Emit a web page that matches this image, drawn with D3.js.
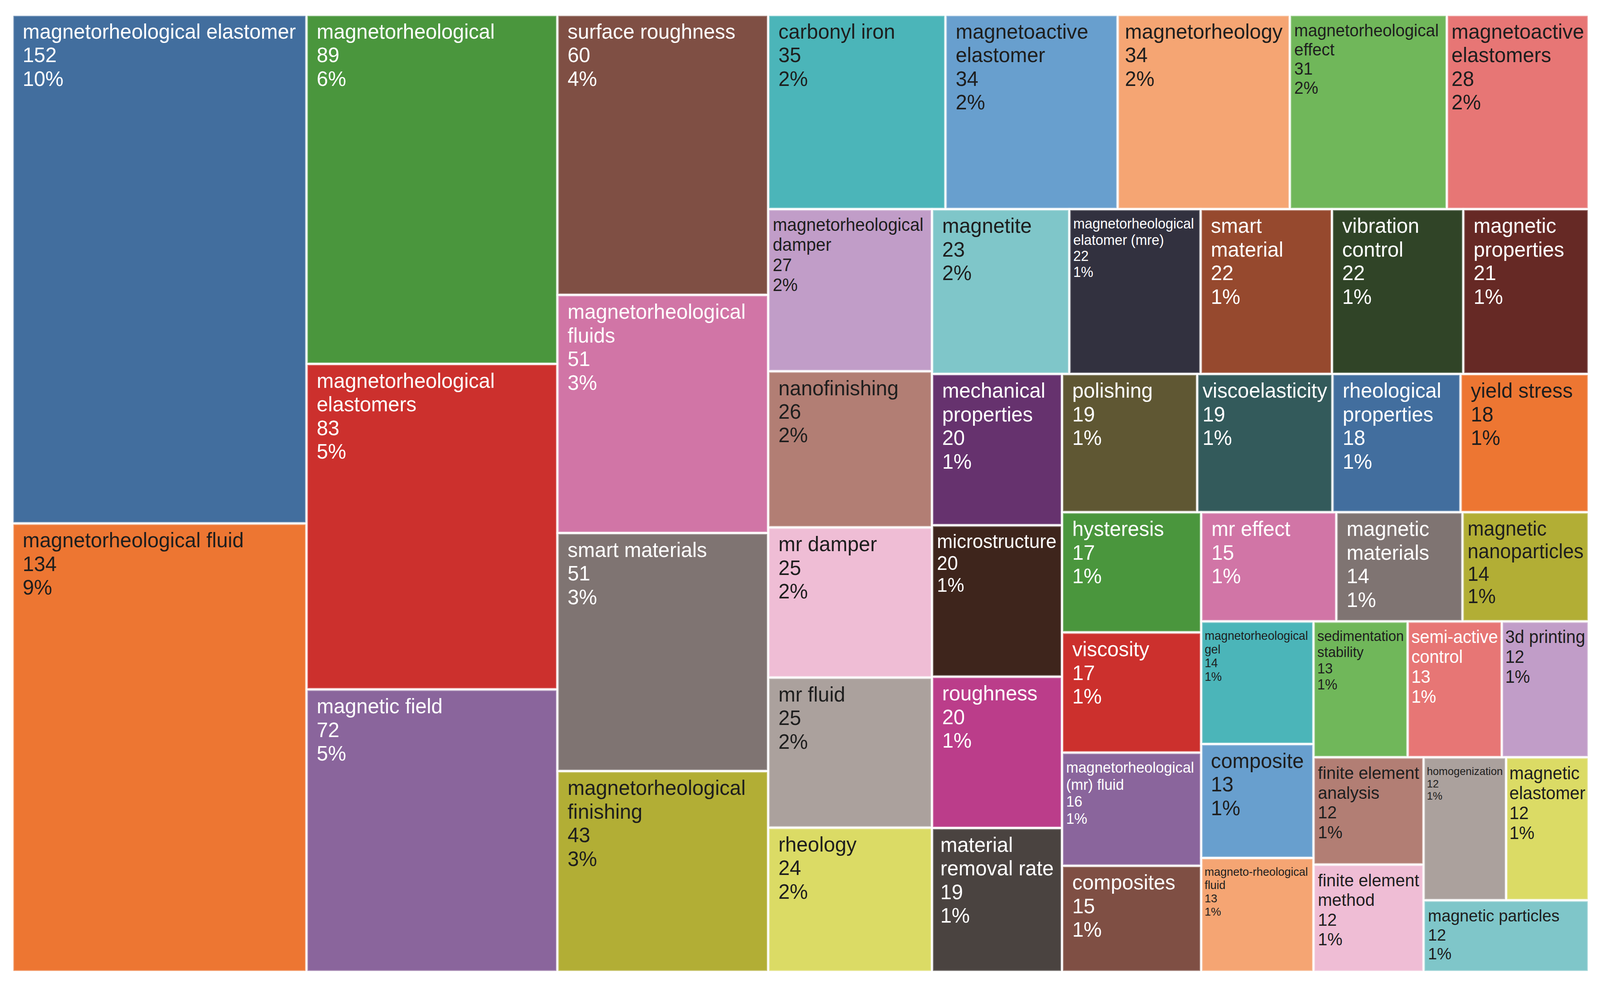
<!DOCTYPE html>
<html>
<head>
<meta charset="utf-8">
<script src="https://cdn.jsdelivr.net/npm/d3@7"></script>
<style>
  html, body { margin: 0; padding: 0; background: #ffffff; overflow: hidden; width: 100%; height: 100%; }
  svg { display: block; width: 100vw; height: 100vh; }
</style>
</head>
<body>
<svg id="chart" viewBox="0 0 4236 2514" preserveAspectRatio="none"></svg>
<script>
// ---------------- data ----------------
const keywords = [
  "magnetorheological elastomer", "magnetorheological fluid", "magnetorheological",
  "magnetorheological elastomers", "magnetic field", "surface roughness",
  "magnetorheological fluids", "smart materials", "magnetorheological finishing",
  "carbonyl iron", "magnetoactive elastomer", "magnetorheology",
  "magnetorheological effect", "magnetoactive elastomers", "magnetorheological damper",
  "nanofinishing", "mr damper", "mr fluid", "rheology", "magnetite",
  "magnetorheological elatomer (mre)", "smart material", "vibration control",
  "magnetic properties", "mechanical properties", "microstructure", "roughness",
  "material removal rate", "polishing", "viscoelasticity", "rheological properties",
  "yield stress", "hysteresis", "viscosity", "magnetorheological (mr) fluid",
  "composites", "mr effect", "magnetic materials", "magnetic nanoparticles",
  "magnetorheological gel", "composite", "magneto-rheological fluid",
  "sedimentation stability", "semi-active control", "3d printing",
  "finite element analysis", "finite element method", "homogenization",
  "magnetic elastomer", "magnetic particles"
];
const counts = [
  152, 134, 89, 83, 72, 60, 51, 51, 43, 35,
  34, 34, 31, 28, 27, 26, 25, 25, 24, 23,
  22, 22, 22, 21, 20, 20, 20, 19, 19, 19,
  18, 18, 17, 17, 16, 15, 15, 14, 14, 14,
  13, 13, 13, 13, 12, 12, 12, 12, 12, 12
];

// ---------------- styles ----------------
const palette = [
  "#426E9E", "#ED7632", "#4A963D", "#CC302D", "#8A659C",
  "#7F4F44", "#D175A6", "#7F7472", "#B2AE35", "#4BB5B9",
  "#689FCE", "#F5A573", "#70B75A", "#E77675", "#C19DC8",
  "#B27E74", "#EFBDD5", "#ABA19D", "#DBDB65", "#7FC6C9",
  "#32313F", "#96492E", "#304427", "#662925", "#66326E",
  "#3E251C", "#BB3D8A", "#4A4340", "#5F5733", "#335A5B"
];
const DARK = "#1e1e1e", LIGHT = "#ffffff";
const paletteText = [
  LIGHT, DARK, LIGHT, LIGHT, LIGHT, LIGHT, LIGHT, LIGHT, DARK, DARK,
  DARK, DARK, DARK, DARK, DARK, DARK, DARK, DARK, DARK, DARK,
  LIGHT, LIGHT, LIGHT, LIGHT, LIGHT, LIGHT, LIGHT, LIGHT, LIGHT, LIGHT
];
const lightTextKeywords = ["semi-active control"];

const FONT = '"Liberation Sans", Arial, Helvetica, sans-serif';
const FMAX = 54, LH = 1.12, SHRINK = 0.92;

// ---------------- layout ----------------
const svg = d3.select("#chart");
const plot = { x0: 33, y0: 38, x1: 4206, y1: 2488 };
const total = d3.sum(counts);

const items = keywords.map((k, i) => ({ name: k, value: counts[i], idx: i }));
const root = d3.hierarchy({ children: items })
  .sum(d => d.value || 0)
  .sort((a, b) => b.value - a.value);

d3.treemap()
  .tile(d3.treemapSquarify.ratio(1))
  .size([plot.x1 - plot.x0, plot.y1 - plot.y0])
  .round(false)(root);

// ---------------- text fitting ----------------
const ctx = document.createElement("canvas").getContext("2d");
function textW(str, fs) {
  ctx.font = `${fs}px ${FONT}`;
  return ctx.measureText(str).width;
}
function partitions(words) {
  const res = [];
  const n = words.length;
  for (let mask = 0; mask < (1 << (n - 1)); mask++) {
    const lines = [];
    let cur = [words[0]];
    for (let i = 1; i < n; i++) {
      if (mask & (1 << (i - 1))) { lines.push(cur.join(" ")); cur = [words[i]]; }
      else cur.push(words[i]);
    }
    lines.push(cur.join(" "));
    if (n > 1 && lines.length > 1 && lines.some(l => l.length < 3)) continue;
    res.push(lines);
  }
  return res;
}
function blockH(n, fs) { return 50 + 0.84 * fs + (n - 1) * LH * fs; }

function fitLabel(d) {
  const w = d.x1 - d.x0, h = d.y1 - d.y0;
  const pct = Math.round(d.data.value / total * 100) + "%";
  const extra = [String(d.data.value), pct];
  let best = null;
  partitions(d.data.name.split(" ")).forEach(lbl => {
    const lines = lbl.concat(extra);
    const wem = d3.max(lines, l => textW(l, 100)) / 100;
    const n = lines.length;
    let fs, shrunk = false;
    if (wem * FMAX + 24 <= w && blockH(n, FMAX) <= h) {
      fs = FMAX;
    } else {
      shrunk = true;
      fs = Math.min(FMAX, SHRINK * w / wem, (h - 50) / (0.84 + (n - 1) * LH));
    }
    const score = fs * (1 - 0.04 * (lbl.length - 1));
    if (!best || score > best.score) best = { lines, fs, shrunk, wem, score };
  });
  return best;
}

// ---------------- draw ----------------
const leaves = root.leaves();
const g = svg.append("g").attr("transform", `translate(${plot.x0},${plot.y0})`);

const cell = g.selectAll("g.cell")
  .data(leaves)
  .join("g")
  .attr("class", "cell");

cell.append("rect")
  .attr("x", d => d.x0)
  .attr("y", d => d.y0)
  .attr("width", d => d.x1 - d.x0)
  .attr("height", d => d.y1 - d.y0)
  .attr("fill", d => palette[d.data.idx % palette.length])
  .attr("stroke", "#ffffff")
  .attr("stroke-width", 5);

cell.append("rect")
  .attr("x", d => d.x0 + 3.5)
  .attr("y", d => d.y0 + 3.5)
  .attr("width", d => Math.max(0, d.x1 - d.x0 - 7))
  .attr("height", d => Math.max(0, d.y1 - d.y0 - 7))
  .attr("fill", "none")
  .attr("stroke", "rgba(255,255,255,0.28)")
  .attr("stroke-width", 2);

cell.each(function (d) {
  const fit = fitLabel(d);
  const w = d.x1 - d.x0;
  const tw = fit.wem * fit.fs;
  const padX = fit.shrunk ? Math.min(0.2 * fit.fs + 3, Math.max(3, (w - tw) / 2))
                          : Math.min(0.5 * fit.fs, Math.max(6, (w - tw) / 2));
  const x = d.x0 + padX;
  const y = d.y0 + 27 + 0.63 * fit.fs;
  const color = lightTextKeywords.includes(d.data.name)
    ? LIGHT : paletteText[d.data.idx % paletteText.length];
  const t = d3.select(this).append("text")
    .attr("font-family", FONT)
    .attr("font-size", fit.fs.toFixed(2))
    .attr("fill", color);
  fit.lines.forEach((line, i) => {
    t.append("tspan")
      .attr("x", x)
      .attr("y", y + i * LH * fit.fs)
      .text(line);
  });
});
</script>
</body>
</html>
